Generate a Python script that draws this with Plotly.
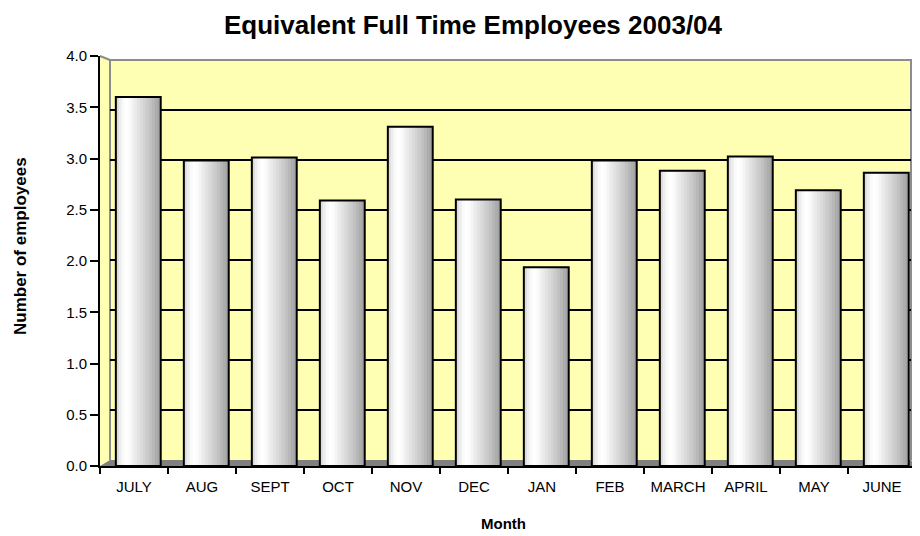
import plotly.graph_objects as go

# ---- data ----
MONTHS = ["JULY", "AUG", "SEPT", "OCT", "NOV", "DEC", "JAN", "FEB", "MARCH", "APRIL", "MAY", "JUNE"]
EMPLOYEES = [3.60, 2.98, 3.01, 2.59, 3.31, 2.60, 1.94, 2.98, 2.88, 3.02, 2.69, 2.86]
Y_TICKS = [0.0, 0.5, 1.0, 1.5, 2.0, 2.5, 3.0, 3.5, 4.0]
GRID_TICKS = [0.5, 1.0, 1.5, 2.0, 2.5, 3.0, 3.5]

TITLE = "Equivalent Full Time Employees 2003/04"
X_TITLE = "Month"
Y_TITLE = "Number of employees"

# ---- styles ----
FONT = "Arial, Liberation Sans, sans-serif"
WALL = "#FFFFB3"
SHADES = ["#dcdcdc", "#eeeeee", "#fafafa", "#ffffff", "#fbfbfb", "#f3f3f3", "#ebebeb",
          "#e3e3e3", "#dbdbdb", "#d3d3d3", "#cbcbcb", "#c2c2c2", "#b8b8b8", "#adadad", "#a3a3a3"]
BAR_W = 0.66
BAR_OFF = -0.33 + 0.063

OFF = 8  # page body margin
W, H = 920 - OFF, 536 - OFF
L, R, T, B = 92, 4, 48, 70
PW = W - L - R
PH = H - T - B


def px_x(p):  # screen px -> paper
    return (p - OFF - L) / PW


def px_y(p):
    return (H - B - (p - OFF)) / PH


fig = go.Figure()

# invisible trace on back-wall axes (xy) so its gridlines render
fig.add_trace(go.Scatter(x=[0], y=[0], xaxis="x", yaxis="y", mode="markers",
                         marker=dict(opacity=0), hoverinfo="skip", showlegend=False))

# gradient slices (each slice extends to the right edge, later ones drawn on top)
n = len(SHADES)
for i, c in enumerate(SHADES):
    fig.add_trace(go.Bar(
        x=MONTHS, y=EMPLOYEES, xaxis="x2", yaxis="y2",
        offset=BAR_OFF + i * BAR_W / n, width=BAR_W - i * BAR_W / n,
        marker=dict(color=c, line=dict(width=0)),
        hoverinfo="skip", showlegend=False,
    ))

# outline
fig.add_trace(go.Bar(
    x=MONTHS, y=EMPLOYEES, xaxis="x2", yaxis="y2", offset=BAR_OFF, width=BAR_W,
    marker=dict(color="rgba(0,0,0,0)", line=dict(color="black", width=2)),
    showlegend=False, name="Employees",
))

# back wall (screen px)
bw_l, bw_r, bw_t, bw_b = 110, 911, 60, 460
fr_l, fr_r, fr_t, fr_b = 100, 916, 56, 466

fig.update_layout(
    width=W, height=H,
    margin=dict(l=L, r=R, t=T, b=B),
    paper_bgcolor="white",
    plot_bgcolor="rgba(0,0,0,0)",
    barmode="overlay",
    font=dict(family=FONT, color="black"),
    title=dict(text="<b>" + TITLE + "</b>", font=dict(size=26, family=FONT, color="black"),
               x=(473 - OFF) / W, xanchor="center", xref="container",
               y=1 - (25 - OFF) / H, yanchor="middle", yref="container"),
    # back wall axes (gridlines only)
    xaxis=dict(domain=[px_x(bw_l), px_x(bw_r)], range=[0, 1], anchor="y",
               visible=False, showgrid=False, zeroline=False),
    yaxis=dict(domain=[px_y(bw_b), px_y(bw_t)], range=[0, 4], anchor="x",
               tickvals=GRID_TICKS, showticklabels=False, ticks="",
               showgrid=True, gridcolor="black", gridwidth=2,
               zeroline=False, showline=False),
    # front axes with bars
    xaxis2=dict(
        domain=[0, 1], range=[-0.5, len(MONTHS) - 0.5], anchor="y2",
        showline=True, linecolor="black", linewidth=2,
        ticks="outside", tickson="boundaries", ticklen=6, tickwidth=2, tickcolor="black",
        ticklabelstandoff=6,
        tickfont=dict(size=15, family=FONT), showgrid=False, zeroline=False,
    ),
    yaxis2=dict(
        domain=[0, 1], range=[0, 4], anchor="x2",
        tickvals=Y_TICKS, tickformat=".1f",
        showline=True, linecolor="black", linewidth=2,
        ticks="outside", ticklen=8, tickwidth=2, tickcolor="black",
        tickfont=dict(size=15, family=FONT), showgrid=False, zeroline=False,
    ),
)

shapes = []
# yellow walls (back wall + left side wall)
shapes.append(dict(type="path", xref="paper", yref="paper", layer="below",
                   path=f"M {px_x(fr_l)},{px_y(fr_b)} L {px_x(fr_l)},{px_y(fr_t)} L {px_x(bw_l)},{px_y(bw_t)} "
                        f"L {px_x(bw_r)},{px_y(bw_t)} L {px_x(bw_r)},{px_y(bw_b)} L {px_x(bw_l)},{px_y(bw_b)} Z",
                   fillcolor=WALL, line=dict(width=0)))
# floor
shapes.append(dict(type="path", xref="paper", yref="paper", layer="below",
                   path=f"M {px_x(fr_l)},{px_y(fr_b)} L {px_x(bw_l)},{px_y(bw_b)} L {px_x(bw_r)},{px_y(bw_b)} L {px_x(fr_r)},{px_y(fr_b)} Z",
                   fillcolor="#808080", line=dict(width=0)))
# back wall border (gray)
shapes.append(dict(type="path", xref="paper", yref="paper", layer="below",
                   path=f"M {px_x(bw_l)},{px_y(bw_b)} L {px_x(bw_l)},{px_y(bw_t)} L {px_x(bw_r)},{px_y(bw_t)} L {px_x(bw_r)},{px_y(bw_b)}",
                   line=dict(color="#8c8c8c", width=2)))
# top-left side-wall edge
shapes.append(dict(type="line", xref="paper", yref="paper", layer="below",
                   x0=px_x(fr_l), y0=px_y(fr_t), x1=px_x(bw_l), y1=px_y(bw_t),
                   line=dict(color="#8c8c8c", width=2)))
fig.update_layout(shapes=shapes)

fig.add_annotation(text="<b>" + Y_TITLE + "</b>", textangle=-90,
                   xref="paper", yref="paper", x=px_x(20), y=px_y(246),
                   xanchor="center", yanchor="middle", showarrow=False,
                   font=dict(size=17, family=FONT, color="black"))
fig.add_annotation(text="<b>" + X_TITLE + "</b>",
                   xref="paper", yref="paper", x=px_x(503), y=px_y(523),
                   xanchor="center", yanchor="middle", showarrow=False,
                   font=dict(size=15, family=FONT, color="black"))

fig.write_html("out.html")
